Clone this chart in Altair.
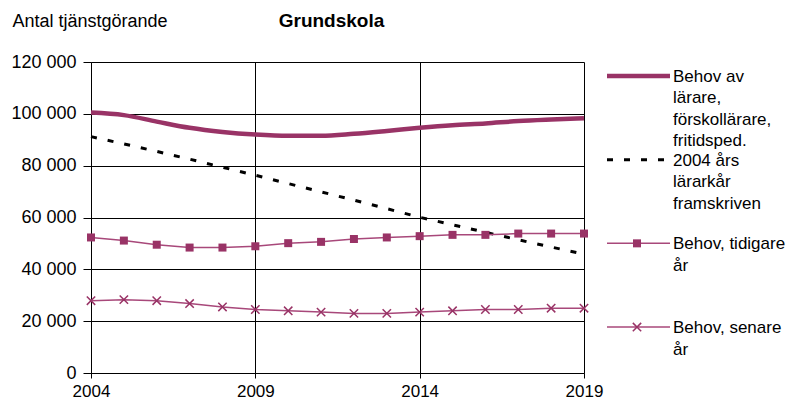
import altair as alt
import pandas as pd

# ---- data ----
years = list(range(2004, 2020))
behov_total = [100500, 99500, 97000, 94600, 93000, 92000, 91500, 91500,
               92300, 93400, 94600, 95600, 96300, 97200, 97800, 98300]
framskriven = [91200, 88400, 85500, 82500, 79400, 76300, 73100, 69900,
               66700, 63400, 60100, 57200, 54300, 51400, 48600, 45900]
behov_tidigare = [52300, 51100, 49500, 48400, 48400, 48900, 50100, 50600,
                  51700, 52300, 52800, 53300, 53300, 53800, 53800, 53800]
behov_senare = [27900, 28300, 27900, 26800, 25500, 24500, 24000, 23500,
                23000, 23000, 23500, 24000, 24500, 24500, 25000, 25000]

series_names = [
    "Behov av lärare, förskollärare, fritidsped.",
    "2004 års lärarkår framskriven",
    "Behov, tidigare år",
    "Behov, senare år",
]
legend_lines = [
    ["Behov av", "lärare,", "förskollärare,", "fritidsped."],
    ["2004 års", "lärarkår", "framskriven"],
    ["Behov, tidigare", "år"],
    ["Behov, senare", "år"],
]
y_ticks = [0, 20000, 40000, 60000, 80000, 100000, 120000]
x_ticks = [2004, 2009, 2014, 2019]
chart_title = "Grundskola"
y_title = "Antal tjänstgörande"

# ---- tables ----
rows = []
for name, vals in zip(series_names, [behov_total, framskriven, behov_tidigare, behov_senare]):
    for yr, v in zip(years, vals):
        rows.append({"year": yr, "series": name, "value": v})
df = pd.DataFrame(rows)
legend_df = pd.DataFrame({"series": series_names, "lines": legend_lines})

FONT = "Liberation Sans"
FS = 18
PLUM = "#993366"
PLUM_LIGHT = "#A8487A"
X_SHAPE = "M-1,-1L1,1M-1,1L1,-1"

x_enc = alt.X(
    "year:Q",
    scale=alt.Scale(domain=[2004, 2019], nice=False, zero=False),
    axis=alt.Axis(values=x_ticks, format="d", title=None, grid=True,
                  gridColor="black", gridWidth=1, gridOpacity=1,
                  domainColor="black", domainWidth=1, tickColor="black",
                  tickSize=5, labelFontSize=17, labelFont=FONT,
                  labelColor="black", labelPadding=5, labelFlush=False),
)
y_enc = alt.Y(
    "value:Q",
    scale=alt.Scale(domain=[0, 120000], nice=False, zero=True),
    axis=alt.Axis(values=y_ticks,
                  labelExpr="replace(format(datum.value, ','), ',', ' ')",
                  grid=True, gridColor="black", gridWidth=1, gridOpacity=1,
                  domainColor="black", domainWidth=1, tickColor="black",
                  tickSize=8, labelFontSize=FS, labelFont=FONT,
                  labelColor="black", labelPadding=7,
                  title=y_title, titleAngle=0, titleX=-79, titleY=-36,
                  titleAlign="left", titleBaseline="alphabetic",
                  titleFontSize=FS, titleFontWeight="normal", titleFont=FONT,
                  titleColor="black"),
)

base = alt.Chart(df).encode(x=x_enc, y=y_enc)


def only(name):
    return alt.datum.series == name


l_total = base.transform_filter(only(series_names[0])).mark_line(
    color=PLUM, strokeWidth=4.5, interpolate="monotone")
l_fram = base.transform_filter(only(series_names[1])).mark_line(
    color="black", strokeWidth=3, strokeDash=[6, 11])
l_tid = base.transform_filter(only(series_names[2])).mark_line(
    color=PLUM_LIGHT, strokeWidth=1.5)
p_tid = base.transform_filter(only(series_names[2])).mark_point(
    shape="square", filled=True, size=64, color=PLUM, opacity=1)
l_sen = base.transform_filter(only(series_names[3])).mark_line(
    color=PLUM_LIGHT, strokeWidth=1.5)
p_sen = base.transform_filter(only(series_names[3])).mark_point(
    shape=X_SHAPE, filled=False, size=70, strokeWidth=1.5, color=PLUM, opacity=1)

main = alt.layer(l_total, l_fram, l_tid, p_tid, l_sen, p_sen)

# ---- legend drawn beside the plot ----
ly = alt.Y("series:N",
           scale=alt.Scale(type="point", domain=series_names, padding=0.358, align=0.233),
           axis=None)
lb = alt.Chart(legend_df).encode(y=ly)
LX0, LX1, LXM, LXT = 516, 579, 546, 582

lg_total = lb.transform_filter(only(series_names[0])).mark_rule(
    color=PLUM, strokeWidth=4.5).encode(x=alt.value(LX0), x2=alt.value(LX1))
lg_fram = lb.transform_filter(only(series_names[1])).mark_rule(
    color="black", strokeWidth=3, strokeDash=[6, 11]).encode(x=alt.value(LX0), x2=alt.value(LX1))
lg_tid = lb.transform_filter(only(series_names[2])).mark_rule(
    color=PLUM_LIGHT, strokeWidth=1.5).encode(x=alt.value(LX0), x2=alt.value(LX1))
lgp_tid = lb.transform_filter(only(series_names[2])).mark_point(
    shape="square", filled=True, size=64, color=PLUM, opacity=1).encode(x=alt.value(LXM))
lg_sen = lb.transform_filter(only(series_names[3])).mark_rule(
    color=PLUM_LIGHT, strokeWidth=1.5).encode(x=alt.value(LX0), x2=alt.value(LX1))
lgp_sen = lb.transform_filter(only(series_names[3])).mark_point(
    shape=X_SHAPE, filled=False, size=70, strokeWidth=1.5, color=PLUM, opacity=1).encode(x=alt.value(LXM))
lg_text = lb.mark_text(align="left", baseline="top", dy=-7, fontSize=17,
                       lineHeight=21.5, font=FONT, color="black").encode(
    x=alt.value(LXT), text="lines:N")

legend = alt.layer(lg_total, lg_fram, lg_tid, lgp_tid, lg_sen, lgp_sen, lg_text)

chart = alt.layer(main, legend).resolve_scale(y="independent").properties(
    width=493, height=311,
    title=alt.TitleParams(chart_title, fontSize=19, fontWeight="bold", font=FONT,
                          color="black", anchor="middle", dx=-6, offset=-19),
    autosize=alt.AutoSizeParams(type="none"),
    padding={"left": 83, "top": 54, "right": 205, "bottom": 27},
).configure_view(stroke=None)

chart.save("out.html", embed_options={"renderer": "svg", "actions": False})
